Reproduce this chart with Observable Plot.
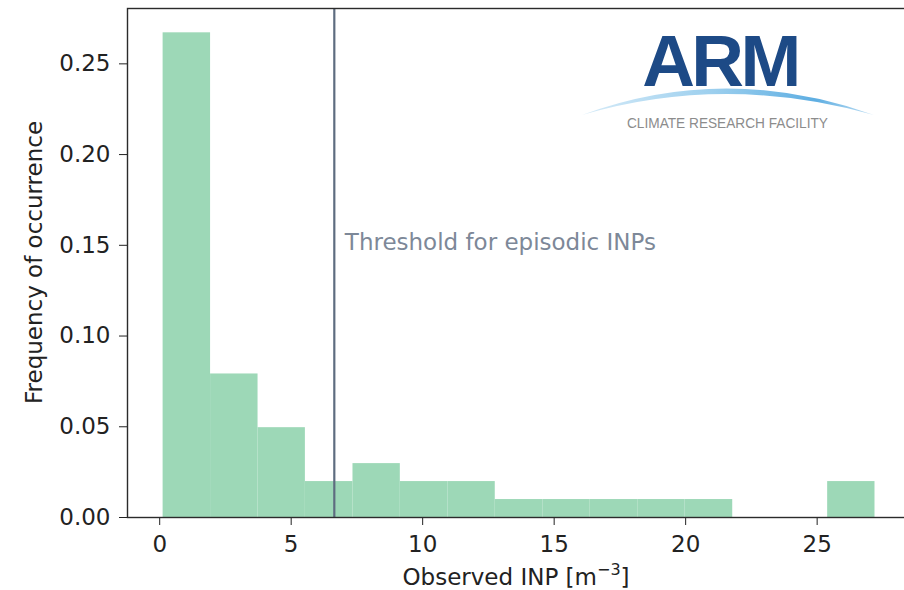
<!DOCTYPE html>
<html>
<head>
<meta charset="utf-8">
<script src="https://cdn.jsdelivr.net/npm/d3@7"></script>
<script src="https://cdn.jsdelivr.net/npm/@observablehq/plot@0.6"></script>
<style>
  html, body { margin: 0; padding: 0; background: #fff; }
  #chart svg { display: block; }
</style>
</head>
<body>
<div id="chart"></div>
<script>
// Histogram of observed INP concentrations (density-normalised, 15 equal bins)
const binEdges = [0.13, 1.935, 3.74, 5.54, 7.35, 9.15, 10.96, 12.76, 14.57, 16.37, 18.18, 19.98, 21.79, 23.59, 25.40, 27.20];
const binDensity = [0.2671, 0.0791, 0.0495, 0.0198, 0.0297, 0.0198, 0.0198, 0.0099, 0.0099, 0.0099, 0.0099, 0.0099, 0, 0, 0.0198];
const threshold = 6.64;
const thresholdLabel = "Threshold for episodic INPs";
const xTicks = [0, 5, 10, 15, 20, 25];
const yTicks = [0, 0.05, 0.10, 0.15, 0.20, 0.25];

const bins = binDensity.map((d, i) => ({x1: binEdges[i], x2: binEdges[i + 1], y: d}));

const font = "DejaVu Sans, Liberation Sans, sans-serif";
const fs = 23;

const svg = Plot.plot({
  width: 904,
  height: 590,
  marginLeft: 127,
  marginTop: 8,
  marginBottom: 73,
  marginRight: -6,
  style: {fontFamily: font, fontSize: fs + "px", color: "#222", background: "#fff"},
  x: {domain: [-1.224, 28.55]},
  y: {domain: [0, 0.2805]},
  marks: [
    Plot.rectY(bins.filter(d => d.y > 0), {x1: "x1", x2: "x2", y: "y", fill: "#9dd8b7", inset: 0}),
    Plot.ruleX([threshold], {stroke: "#5e6c80", strokeWidth: 2.2}),
    Plot.text([thresholdLabel], {
      x: threshold + 0.4, y: 0.15, text: d => d,
      textAnchor: "start", lineAnchor: "bottom", dy: 5,
      fill: "#7d8898", fontSize: fs
    }),
    Plot.axisY({ticks: yTicks, tickFormat: ".2f", tickSize: 8, tickPadding: 9, fontSize: fs, label: null}),
    Plot.axisX({ticks: xTicks, tickFormat: "d", tickSize: 8, tickPadding: 10, fontSize: fs, label: null}),
    Plot.frame({stroke: "#2b2b2b", strokeWidth: 1.4})
  ]
});

const root = d3.select(svg);

// Axis titles
root.append("text")
  .attr("transform", "translate(42,262.5) rotate(-90)")
  .attr("text-anchor", "middle")
  .attr("font-family", font)
  .attr("font-size", fs)
  .attr("fill", "#222")
  .text("Frequency of occurrence");

const xl = root.append("text")
  .attr("x", 516)
  .attr("y", 585)
  .attr("text-anchor", "middle")
  .attr("font-family", font)
  .attr("font-size", fs)
  .attr("fill", "#222");
xl.append("tspan").text("Observed INP [m");
xl.append("tspan").attr("dy", -10).attr("font-size", 16).text("\u22123");
xl.append("tspan").attr("dy", 10).text("]");

// ARM Climate Research Facility logo
const defs = root.append("defs");
const grad = defs.append("linearGradient").attr("id", "swoosh").attr("x1", "0%").attr("x2", "100%");
grad.append("stop").attr("offset", "0%").attr("stop-color", "#d6ebf8");
grad.append("stop").attr("offset", "45%").attr("stop-color", "#9ccfee");
grad.append("stop").attr("offset", "80%").attr("stop-color", "#5eaee2");
grad.append("stop").attr("offset", "100%").attr("stop-color", "#c2e0f4");

const logo = root.append("g");
logo.append("text")
  .attr("x", 720)
  .attr("y", 86)
  .attr("text-anchor", "middle")
  .attr("font-family", "Liberation Sans, Arial, sans-serif")
  .attr("font-weight", "bold")
  .attr("font-size", 73)
  .attr("letter-spacing", -3.5)
  .attr("fill", "#1d4a86")
  .text("ARM");
logo.append("path")
  .attr("d", "M582,115 Q725,62 874,115 Q725,73 582,115 Z")
  .attr("fill", "url(#swoosh)");
logo.append("text")
  .attr("x", 627)
  .attr("y", 128)
  .attr("text-anchor", "start")
  .attr("textLength", 201)
  .attr("lengthAdjust", "spacingAndGlyphs")
  .attr("font-family", "Liberation Sans, Arial, sans-serif")
  .attr("font-size", 14)
  .attr("fill", "#8c8c8c")
  .text("CLIMATE RESEARCH FACILITY");

document.getElementById("chart").appendChild(svg);
</script>
</body>
</html>
